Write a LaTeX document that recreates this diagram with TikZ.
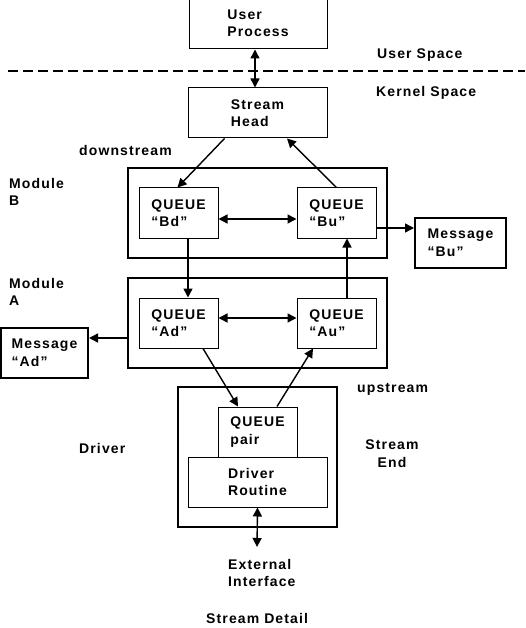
\documentclass[tikz,border=0pt]{standalone}
\usepackage{fontspec}
\setmainfont{Liberation Sans}[LetterSpace=8]
\usetikzlibrary{arrows.meta}
\begin{document}
\begin{tikzpicture}[x=1pt,y=-1pt,
  every node/.style={font=\fontsize{14}{17.5}\selectfont\bfseries},
  box/.style={draw,line width=1pt,align=left,inner sep=0pt},
  outer/.style={draw,line width=2pt,align=left,inner sep=0pt},
  lbl/.style={align=left,inner sep=0pt,anchor=north west},
  arr/.style={line width=1.4pt,-{Triangle[length=9pt,width=9pt]}},
  darr/.style={line width=1.4pt,{Triangle[length=9pt,width=9pt]}-{Triangle[length=9pt,width=9pt]}}]
\useasboundingbox (0,0) rectangle (525,628);
% nodes
\node[box,minimum width=138pt,minimum height=51pt] (up) at (258,23.5) {User\\Process};
\node[box,minimum width=139pt,minimum height=50pt] (sh) at (257.5,113) {Stream\\Head};
\node[outer,minimum width=259pt,minimum height=90pt] (modB) at (257.5,213) {};
\node[box,minimum width=79pt,minimum height=50pt] (bd) at (178.5,213) {QUEUE\\``Bd''};
\node[box,minimum width=79pt,minimum height=50pt] (bu) at (336.5,213) {QUEUE\\``Bu''};
\node[outer,minimum width=91pt,minimum height=50pt] (msgbu) at (460.5,243) {Message\\``Bu''};
\node[outer,minimum width=259pt,minimum height=90pt] (modA) at (257.5,323) {};
\node[box,minimum width=79pt,minimum height=50pt] (ad) at (178.5,323) {QUEUE\\``Ad''};
\node[box,minimum width=79pt,minimum height=50pt] (au) at (336.5,323) {QUEUE\\``Au''};
\node[outer,minimum width=87pt,minimum height=50pt] (msgad) at (44.5,353) {Message\\``Ad''};
\node[outer,minimum width=159pt,minimum height=140pt] (drv) at (257.5,457) {};
\node[box,minimum width=79pt,minimum height=50pt] (qp) at (257.5,432) {QUEUE\\pair};
\node[box,minimum width=139pt,minimum height=50pt] (dr) at (257.5,482) {Driver\\Routine};
\coordinate (ext) at (257,547);
% labels
\node[lbl] (us) at (377,49) {User Space};
\node[lbl] (ks) at (376,86) {Kernel Space};
\node[lbl] (ds) at (79,145) {downstream};
\node[lbl] (mb) at (9,178) {Module\\B};
\node[lbl] (ma) at (9,278) {Module\\A};
\node[lbl] (ups) at (357,383) {upstream};
\node[lbl] (drvl) at (79,443) {Driver};
\node[align=center,inner sep=0pt,anchor=north] (se) at (392,440) {Stream\\End};
\node[lbl] (ei) at (228,559) {External\\Interface};
\node[lbl] (sd) at (206,613) {Stream Detail};
% dashed separator
\draw[line width=2pt,dash pattern=on 10pt off 5pt] (8,71) -- (525,71);
% connectors
\draw[darr] ([xshift=-3pt]up.south) -- ([xshift=-2.5pt]sh.north);
\draw[arr] ([xshift=37pt]sh.south west) -- ([xshift=39pt]bd.north west);
\draw[arr] (bu.north) -- ([xshift=-40.5pt]sh.south east);
\draw[darr] ([yshift=-6pt]bd.east) -- ([yshift=-6pt]bu.west);
\draw[arr] ([yshift=-15pt]bu.east) -- ([yshift=15pt]msgbu.west);
\draw[arr] ([xshift=9.5pt]bd.south) -- ([xshift=9.5pt]ad.north);
\draw[arr] ([xshift=10.5pt]au.north) -- ([xshift=10.5pt]bu.south);
\draw[darr] ([yshift=5pt]ad.east) -- ([yshift=5pt]au.west);
\draw[arr] ([yshift=-15pt]modA.west) -- ([yshift=15pt]msgad.east);
\draw[arr] ([xshift=24.5pt]ad.south) -- ([xshift=-19.5pt]qp.north);
\draw[arr] ([xshift=19.5pt]qp.north) -- ([xshift=-23.5pt]au.south);
\draw[darr] (dr.south) -- (ext);
\end{tikzpicture}
\end{document}
